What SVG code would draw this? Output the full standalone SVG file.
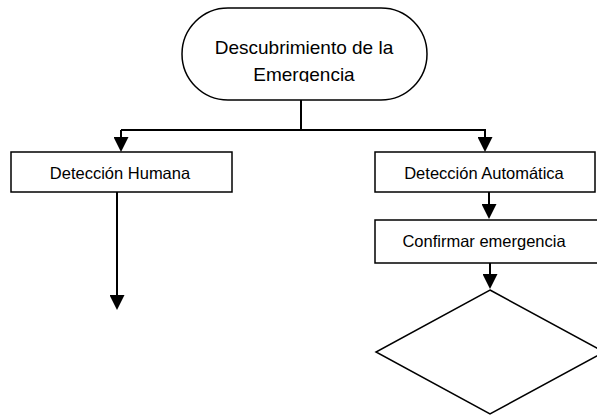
<svg xmlns="http://www.w3.org/2000/svg" width="597" height="415" viewBox="0 0 597 415">
<style>
.shape{fill:#fff;stroke:#000;stroke-width:1.5}
.conn{fill:none;stroke:#000;stroke-width:2}
.lbl{font-family:"Liberation Sans",Arial,sans-serif;font-size:16.5px;fill:#000;text-anchor:middle}
.ttl{font-family:"Liberation Sans",Arial,sans-serif;font-size:19px;fill:#000;text-anchor:middle}
</style>
<defs>
<marker id="ah" viewBox="0 0 15 15" markerWidth="15" markerHeight="15" markerUnits="userSpaceOnUse" refX="5" refY="7.5" orient="auto">
<path d="M0,0 L15,7.5 L0,15 z" fill="#000"/>
</marker>
<clipPath id="tclip"><rect x="182" y="8" width="245" height="74"/></clipPath>
</defs>
<rect width="597" height="415" fill="#fff"/>
<g id="connectors">
<path class="conn" d="M301,100 V130"/>
<path class="conn" d="M121,130 H486"/>
<path class="conn" d="M121,130 V142" marker-end="url(#ah)"/>
<path class="conn" d="M485,130 V142" marker-end="url(#ah)"/>
<path class="conn" d="M117,192 V300" marker-end="url(#ah)"/>
<path class="conn" d="M489,192 V209" marker-end="url(#ah)"/>
<path class="conn" d="M490,263 V279" marker-end="url(#ah)"/>
</g>
<g id="start">
<rect class="shape" x="182" y="8" width="245" height="92" rx="46" ry="46"/>
<g clip-path="url(#tclip)">
<text class="ttl" x="304" y="54">Descubrimiento de la</text>
<text class="ttl" x="304" y="81">Emergencia</text>
</g>
</g>
<g id="human">
<rect class="shape" x="11" y="152" width="221" height="40"/>
<text class="lbl" x="120" y="179">Detección Humana</text>
</g>
<g id="auto">
<rect class="shape" x="375" y="152" width="220" height="40"/>
<text class="lbl" x="484" y="179">Detección Automática</text>
</g>
<g id="confirm">
<rect class="shape" x="375" y="220" width="226" height="43"/>
<text class="lbl" x="484" y="247">Confirmar emergencia</text>
</g>
<g id="decision">
<polygon class="shape" points="490,290 604,352 490,414 376,352"/>
</g>
</svg>
